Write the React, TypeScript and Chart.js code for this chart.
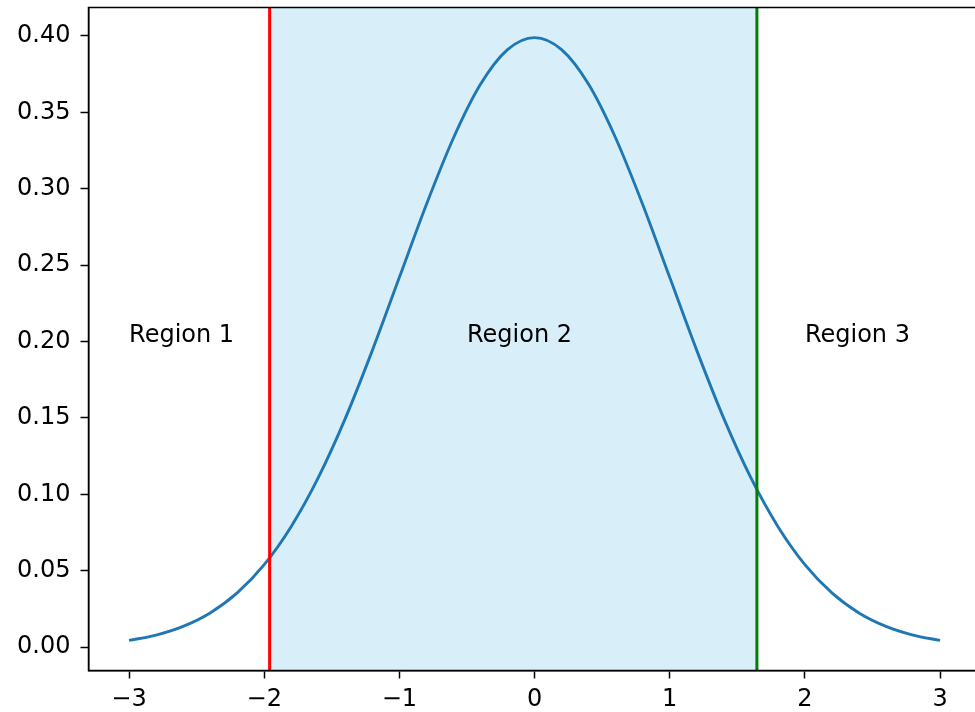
import React, { useEffect, useRef } from "react";
import { Chart, registerables } from "chart.js";

Chart.register(...registerables);

// Standard normal density curve
const curveX = [
  -3.0, -2.8, -2.6, -2.4, -2.2, -2.0, -1.8, -1.6, -1.4, -1.2, -1.0, -0.8, -0.6, -0.4, -0.2,
  0.0, 0.2, 0.4, 0.6, 0.8, 1.0, 1.2, 1.4, 1.6, 1.8, 2.0, 2.2, 2.4, 2.6, 2.8, 3.0,
];
const curveY = [
  0.0044, 0.0079, 0.0136, 0.0224, 0.0355, 0.054, 0.079, 0.1109, 0.1497, 0.1942, 0.242, 0.2897,
  0.3332, 0.3683, 0.391, 0.3989, 0.391, 0.3683, 0.3332, 0.2897, 0.242, 0.1942, 0.1497, 0.1109,
  0.079, 0.054, 0.0355, 0.0224, 0.0136, 0.0079, 0.0044,
];

const lowerCut = -1.96;
const upperCut = 1.645;

const xTicks = [-3, -2, -1, 0, 1, 2, 3];
const xTickLabels = ["\u22123", "\u22122", "\u22121", "0", "1", "2", "3"];
const yTicks = [0, 0.05, 0.1, 0.15, 0.2, 0.25, 0.3, 0.35, 0.4];
const yTickLabels = ["0.00", "0.05", "0.10", "0.15", "0.20", "0.25", "0.30", "0.35", "0.40"];

const regionLabels = ["Region 1", "Region 2", "Region 3"];
const regionX = [-3, -0.5, 2];
const regionY = [0.2, 0.2, 0.2];

const X_MIN = -3.3;
const X_MAX = 3.3;
const Y_MIN = -0.0153;
const Y_MAX = 0.4186;

const FONT = '"DejaVu Sans", sans-serif';
const FONT_SIZE = 24;

export default function App() {
  const ref = useRef<HTMLCanvasElement>(null);

  useEffect(() => {
    const canvas = ref.current;
    if (!canvas) return;

    const overlay = {
      id: "overlay",
      afterDatasetsDraw(chart: any) {
        const { ctx, chartArea, scales } = chart;
        ctx.save();
        ctx.font = `${FONT_SIZE}px ${FONT}`;
        ctx.fillStyle = "#000";
        ctx.textAlign = "left";
        ctx.textBaseline = "alphabetic";
        regionLabels.forEach((t, i) => {
          ctx.fillText(
            t,
            scales.x.getPixelForValue(regionX[i]),
            scales.y.getPixelForValue(regionY[i])
          );
        });
        ctx.strokeStyle = "#000";
        ctx.lineWidth = 1.5;
        ctx.strokeRect(
          chartArea.left,
          chartArea.top,
          chartArea.right - chartArea.left,
          chartArea.bottom - chartArea.top
        );
        ctx.restore();
      },
    };

    const chart = new Chart(canvas, {
      type: "line",
      data: {
        datasets: [
          {
            label: "lower",
            data: [
              { x: lowerCut, y: Y_MIN },
              { x: lowerCut, y: Y_MAX },
            ],
            borderColor: "#ff0000",
            borderWidth: 3,
            pointRadius: 0,
            fill: false,
            order: 0,
          },
          {
            label: "upper",
            data: [
              { x: upperCut, y: Y_MIN },
              { x: upperCut, y: Y_MAX },
            ],
            borderColor: "#008000",
            borderWidth: 3,
            pointRadius: 0,
            fill: false,
            order: 0,
          },
          {
            label: "pdf",
            data: curveX.map((x, i) => ({ x, y: curveY[i] })),
            borderColor: "#1f77b4",
            borderWidth: 2.9,
            pointRadius: 0,
            cubicInterpolationMode: "monotone",
            fill: false,
            order: 1,
          },
          {
            label: "span",
            data: [
              { x: lowerCut, y: Y_MAX },
              { x: upperCut, y: Y_MAX },
            ],
            borderColor: "rgba(0,0,0,0)",
            borderWidth: 0,
            backgroundColor: "rgba(135,206,235,0.32)",
            pointRadius: 0,
            fill: "start",
            order: 2,
          },
        ] as any,
      },
      options: {
        responsive: false,
        animation: false,
        devicePixelRatio: 1,
        parsing: false,
        layout: { padding: { left: 0, right: 9.4, top: 7.5, bottom: 0 } },
        plugins: {
          legend: { display: false },
          tooltip: { enabled: false },
        },
        scales: {
          x: {
            type: "linear",
            min: X_MIN,
            max: X_MAX,
            afterBuildTicks: (s: any) => {
              s.ticks = xTicks.map((v) => ({ value: v }));
            },
            afterFit: (s: any) => {
              s.height = 41.5;
              s.paddingLeft = 0;
              s.paddingRight = 0;
            },
            ticks: {
              callback: (_v: any, i: number) => xTickLabels[i],
              font: { size: FONT_SIZE, family: FONT },
              color: "#000",
              padding: 7,
              maxRotation: 0,
              autoSkip: false,
            },
            grid: {
              display: true,
              drawOnChartArea: false,
              drawTicks: true,
              tickLength: 8,
              tickWidth: 1.5,
              tickColor: "#000",
            },
            border: { display: true, color: "#000", width: 1.5 },
          },
          y: {
            type: "linear",
            min: Y_MIN,
            max: Y_MAX,
            afterBuildTicks: (s: any) => {
              s.ticks = yTicks.map((v) => ({ value: v }));
            },
            afterFit: (s: any) => {
              s.width = 88.5;
              s.paddingTop = 0;
              s.paddingBottom = 0;
            },
            ticks: {
              callback: (_v: any, i: number) => yTickLabels[i],
              font: { size: FONT_SIZE, family: FONT },
              color: "#000",
              padding: 10,
              autoSkip: false,
            },
            grid: {
              display: true,
              drawOnChartArea: false,
              drawTicks: true,
              tickLength: 8,
              tickWidth: 1.5,
              tickColor: "#000",
            },
            border: { display: true, color: "#000", width: 1.5 },
          },
        },
      } as any,
      plugins: [overlay],
    });

    return () => chart.destroy();
  }, []);

  return (
    <div
      style={{
        position: "fixed",
        left: 0,
        top: 0,
        width: 975,
        height: 712,
        overflow: "hidden",
        background: "#fff",
      }}
    >
      <canvas ref={ref} width={990} height={712} style={{ display: "block" }} />
    </div>
  );
}
